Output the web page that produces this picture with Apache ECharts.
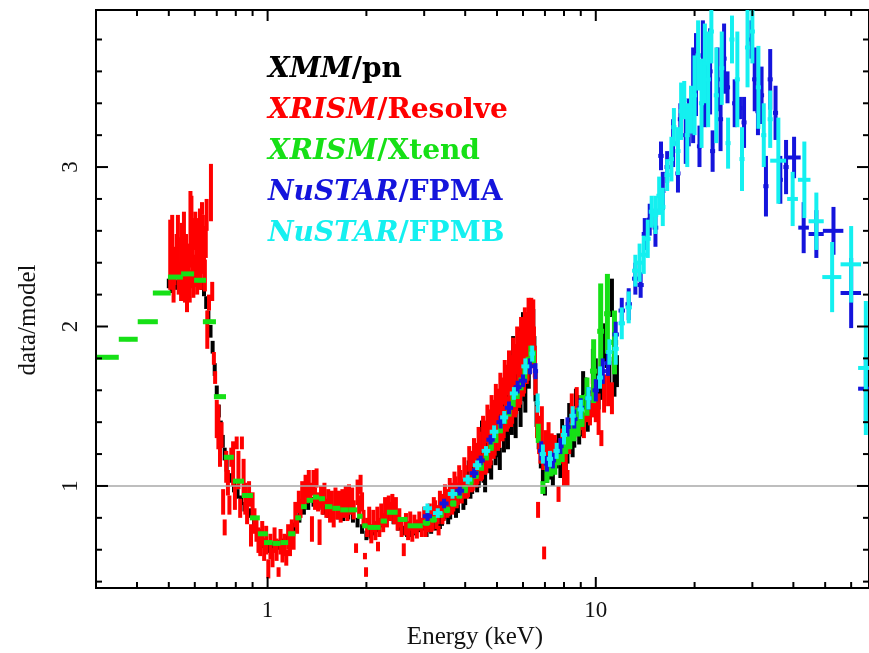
<!DOCTYPE html>
<html>
<head>
<meta charset="utf-8">
<script src="https://cdn.jsdelivr.net/npm/echarts@6/dist/echarts.min.js"></script>
<style>
  html, body { margin: 0; padding: 0; background: #ffffff; }
  #chart { width: 869px; height: 653px; }
</style>
</head>
<body>
<div id="chart"></div>
<script>
// Broadband spectral ratio (data/model) for five instruments.
// Each point: [energy keV, ratio, ratio error]
const pnPoints = [
  [0.50,2.27,0.03],[0.51,2.24,0.03],[0.52,2.29,0.03],[0.53,2.26,0.03],[0.54,2.31,0.03],[0.55,2.28,0.03],
  [0.56,2.30,0.03],[0.57,2.27,0.03],[0.58,2.32,0.03],[0.59,2.29,0.03],[0.60,2.31,0.03],[0.61,2.28,0.03],
  [0.62,2.30,0.03],[0.63,2.26,0.03],[0.64,2.22,0.03],[0.65,2.15,0.04],[0.66,2.06,0.04],[0.67,1.97,0.04],
  [0.68,1.87,0.04],[0.69,1.73,0.04],[0.70,1.59,0.04],[0.71,1.47,0.04],[0.72,1.37,0.04],[0.73,1.28,0.04],
  [0.74,1.20,0.04],[0.75,1.13,0.04],[0.77,1.05,0.03],[0.79,0.99,0.03],[0.81,0.95,0.03],[0.83,0.91,0.03],
  [0.85,0.87,0.03],[0.88,0.83,0.03],[0.91,0.77,0.03],[0.94,0.70,0.03],[0.97,0.64,0.03],[1.00,0.61,0.03],
  [1.03,0.62,0.03],[1.06,0.63,0.03],[1.09,0.63,0.03],[1.12,0.64,0.03],[1.15,0.66,0.03],[1.18,0.70,0.03],
  [1.21,0.74,0.03],[1.25,0.80,0.03],[1.29,0.85,0.03],[1.33,0.88,0.03],[1.38,0.90,0.03],[1.43,0.88,0.03],
  [1.48,0.85,0.03],[1.53,0.83,0.03],[1.58,0.82,0.03],[1.64,0.82,0.03],[1.70,0.81,0.03],[1.76,0.82,0.03],
  [1.82,0.80,0.03],[1.88,0.77,0.03],[1.94,0.73,0.03],[2.00,0.69,0.03],[2.06,0.70,0.03],[2.12,0.72,0.03],
  [2.18,0.74,0.03],[2.24,0.77,0.03],[2.30,0.80,0.03],[2.36,0.82,0.03],[2.42,0.79,0.03],[2.50,0.75,0.03],
  [2.58,0.72,0.03],[2.66,0.71,0.03],[2.74,0.71,0.03],[2.82,0.72,0.03],[2.90,0.74,0.03],[3.00,0.76,0.04],
  [3.05,0.72,0.04],[3.10,0.77,0.04],[3.15,0.74,0.04],[3.20,0.80,0.04],[3.25,0.76,0.04],[3.30,0.81,0.04],
  [3.35,0.77,0.04],[3.40,0.79,0.04],[3.45,0.84,0.05],[3.50,0.87,0.05],[3.55,0.80,0.04],[3.60,0.83,0.04],
  [3.65,0.89,0.05],[3.70,0.92,0.05],[3.75,0.85,0.05],[3.80,0.88,0.05],[3.85,0.95,0.05],[3.90,0.99,0.05],
  [3.95,0.90,0.05],[4.00,0.93,0.05],[4.05,1.04,0.06],[4.10,1.10,0.06],[4.15,0.97,0.05],[4.20,1.00,0.05],
  [4.25,1.12,0.06],[4.30,1.15,0.06],[4.35,1.02,0.06],[4.40,1.05,0.06],[4.45,1.24,0.07],[4.50,1.34,0.07],
  [4.55,1.08,0.06],[4.60,1.02,0.06],[4.65,1.24,0.07],[4.70,1.30,0.07],[4.75,1.14,0.06],[4.80,1.10,0.06],
  [4.85,1.33,0.07],[4.90,1.40,0.07],[4.95,1.20,0.07],[5.00,1.48,0.07],[5.05,1.25,0.07],[5.10,1.17,0.07],
  [5.15,1.44,0.08],[5.20,1.52,0.08],[5.25,1.28,0.07],[5.30,1.50,0.08],[5.35,1.62,0.08],[5.40,1.30,0.07],
  [5.45,1.42,0.08],[5.50,1.70,0.08],[5.55,1.40,0.08],[5.60,1.86,0.08],[5.65,1.50,0.08],[5.70,1.38,0.08],
  [5.75,1.72,0.09],[5.80,1.90,0.09],[5.85,1.55,0.08],[5.90,1.45,0.08],[5.95,1.82,0.09],[6.00,2.00,0.09],
  [6.05,1.62,0.09],[6.10,1.55,0.09],[6.15,1.88,0.09],[6.20,1.97,0.09],[6.25,1.70,0.09],[6.30,2.05,0.09],
  [6.35,1.85,0.09],[6.40,1.95,0.09],[6.45,2.02,0.09],[6.50,1.85,0.09],[6.55,1.62,0.09],[6.60,1.45,0.08],
  [6.70,1.30,0.07],[6.80,1.17,0.06],[6.90,1.08,0.06],[7.00,0.97,0.03],[7.05,1.14,0.06],[7.10,1.08,0.06],
  [7.15,1.20,0.07],[7.20,1.15,0.07],[7.30,1.10,0.06],[7.40,1.05,0.05],[7.50,1.22,0.07],[7.60,1.18,0.07],
  [7.70,1.26,0.07],[7.80,1.12,0.07],[7.90,1.34,0.08],[8.00,1.28,0.08],[8.10,1.18,0.08],[8.20,1.22,0.08],
  [8.30,1.44,0.08],[8.40,1.38,0.08],[8.50,1.26,0.08],[8.60,1.32,0.08],[8.70,1.52,0.09],[8.80,1.48,0.09],
  [8.90,1.35,0.09],[9.00,1.40,0.09],[9.15,1.62,0.10],[9.30,1.58,0.10],[9.45,1.44,0.10],[9.60,1.50,0.10],
  [9.80,1.75,0.11],[10.0,1.70,0.10],[10.2,1.58,0.10],[10.4,1.64,0.10],[10.6,1.90,0.12],[10.8,1.85,0.11],
  [11.0,1.70,0.11],[11.2,2.18,0.12],[11.4,1.66,0.10],[11.6,1.72,0.10]
];

const resolvePoints = [
  [0.505,2.45,0.22],[0.512,2.56,0.14],[0.517,2.30,0.15],[0.520,2.38,0.12],[0.528,2.44,0.14],[0.533,2.52,0.18],
  [0.536,2.30,0.10],[0.545,2.36,0.20],[0.548,2.50,0.15],[0.552,2.45,0.12],[0.556,2.62,0.10],[0.560,2.30,0.15],
  [0.564,2.40,0.18],[0.568,2.29,0.20],[0.575,2.40,0.12],[0.579,2.25,0.10],[0.582,2.61,0.24],[0.586,2.70,0.12],
  [0.590,2.46,0.22],[0.594,2.30,0.12],[0.598,2.35,0.10],[0.602,2.60,0.12],[0.606,2.52,0.15],[0.610,2.30,0.10],
  [0.615,2.40,0.10],[0.618,2.48,0.20],[0.622,2.62,0.12],[0.626,2.35,0.12],[0.631,2.74,0.04],[0.635,2.55,0.15],
  [0.640,2.45,0.12],[0.644,2.32,0.10],[0.648,2.53,0.10],[0.652,2.70,0.10],[0.655,1.98,0.12],[0.663,2.15,0.05],
  [0.672,2.84,0.18],[0.678,2.22,0.06],[0.686,1.80,0.04],[0.692,1.68,0.04],[0.700,1.42,0.12],[0.708,1.37,0.14],
  [0.716,1.22,0.10],[0.724,1.32,0.08],[0.732,0.90,0.08],[0.740,0.74,0.05],[0.748,1.12,0.10],[0.757,1.02,0.08],
  [0.765,0.88,0.06],[0.775,1.18,0.06],[0.785,1.14,0.14],[0.795,0.93,0.08],[0.805,1.27,0.04],[0.815,1.10,0.12],
  [0.825,0.86,0.06],[0.835,1.27,0.04],[0.845,1.05,0.12],[0.855,0.92,0.10],[0.866,0.84,0.08],[0.878,0.95,0.08],
  [0.890,0.69,0.07],[0.900,0.88,0.08],[0.912,0.78,0.08],[0.925,0.72,0.07],[0.938,0.66,0.08],[0.950,0.62,0.06],
  [0.963,0.70,0.08],[0.976,0.60,0.07],[0.990,0.66,0.09],[1.005,0.48,0.06],[1.020,0.62,0.08],[1.035,0.55,0.06],
  [1.050,0.66,0.08],[1.065,0.60,0.07],[1.080,0.46,0.03],[1.095,0.65,0.08],[1.110,0.58,0.06],[1.125,0.63,0.07],
  [1.140,0.55,0.05],[1.155,0.68,0.08],[1.170,0.62,0.06],[1.185,0.72,0.07],[1.200,0.66,0.06],[1.215,0.82,0.08],
  [1.230,0.76,0.06],[1.245,0.90,0.07],[1.260,0.86,0.06],[1.275,0.97,0.06],[1.290,0.92,0.06],[1.305,1.00,0.07],
  [1.320,0.95,0.06],[1.335,1.03,0.07],[1.350,0.96,0.06],[1.365,0.73,0.08],[1.380,1.02,0.08],[1.395,0.92,0.07],
  [1.410,1.05,0.06],[1.425,0.90,0.06],[1.440,0.71,0.08],[1.455,0.93,0.07],[1.470,0.88,0.06],[1.490,0.95,0.07],
  [1.510,0.86,0.06],[1.530,0.91,0.07],[1.550,0.83,0.06],[1.570,0.90,0.07],[1.590,0.80,0.06],[1.610,0.93,0.06],
  [1.630,0.85,0.06],[1.650,0.90,0.07],[1.670,0.82,0.05],[1.690,0.92,0.06],[1.710,0.86,0.06],[1.730,0.93,0.07],
  [1.750,0.84,0.06],[1.770,0.95,0.06],[1.790,0.88,0.06],[1.810,0.92,0.07],[1.830,0.85,0.06],[1.860,0.61,0.03],
  [1.880,0.96,0.08],[1.900,0.88,0.06],[1.920,1.01,0.06],[1.940,0.90,0.06],[1.960,0.80,0.05],[1.980,0.56,0.02],
  [1.995,0.46,0.03],[2.010,0.74,0.06],[2.040,0.80,0.07],[2.070,0.70,0.06],[2.100,0.78,0.07],[2.130,0.72,0.06],
  [2.160,0.80,0.07],[2.170,0.62,0.03],[2.190,0.74,0.06],[2.220,0.82,0.07],[2.250,0.77,0.06],[2.280,0.86,0.07],
  [2.310,0.80,0.06],[2.340,0.88,0.06],[2.370,0.84,0.06],[2.400,0.90,0.05],[2.430,0.82,0.06],[2.460,0.86,0.07],
  [2.490,0.78,0.06],[2.520,0.80,0.06],[2.560,0.74,0.06],[2.600,0.60,0.04],[2.640,0.76,0.07],[2.680,0.72,0.06],
  [2.720,0.78,0.06],[2.760,0.70,0.05],[2.800,0.76,0.06],[2.850,0.73,0.06],[2.900,0.78,0.06],[2.950,0.74,0.06],
  [3.000,0.80,0.07],[3.030,0.74,0.06],[3.060,0.77,0.06],[3.090,0.80,0.07],[3.120,0.83,0.06],[3.150,0.77,0.06],
  [3.180,0.79,0.07],[3.210,0.86,0.07],[3.240,0.85,0.06],[3.270,0.79,0.06],[3.300,0.82,0.06],[3.320,0.72,0.03],
  [3.350,0.90,0.07],[3.380,0.88,0.07],[3.410,0.82,0.06],[3.440,0.84,0.06],[3.470,0.94,0.07],[3.500,0.92,0.06],
  [3.530,0.86,0.06],[3.560,0.88,0.07],[3.590,0.98,0.07],[3.620,0.96,0.06],[3.650,0.89,0.07],[3.680,0.91,0.07],
  [3.710,1.02,0.07],[3.740,1.00,0.06],[3.770,0.93,0.07],[3.800,0.95,0.07],[3.835,1.06,0.07],[3.870,1.03,0.07],
  [3.905,0.96,0.07],[3.940,0.98,0.06],[3.975,1.10,0.08],[4.010,1.06,0.07],[4.045,0.99,0.07],[4.080,1.00,0.07],
  [4.115,1.17,0.08],[4.150,1.14,0.08],[4.185,1.03,0.07],[4.220,1.04,0.07],[4.255,1.21,0.09],[4.290,1.18,0.09],
  [4.325,1.07,0.08],[4.360,1.08,0.07],[4.395,1.27,0.10],[4.430,1.24,0.10],[4.465,1.11,0.08],[4.500,1.12,0.08],
  [4.535,1.33,0.11],[4.570,1.30,0.11],[4.605,1.15,0.08],[4.640,1.16,0.08],[4.675,1.39,0.12],[4.710,1.36,0.12],
  [4.745,1.20,0.09],[4.780,1.22,0.09],[4.815,1.45,0.12],[4.850,1.42,0.12],[4.885,1.26,0.09],[4.920,1.28,0.09],
  [4.960,1.51,0.13],[5.000,1.48,0.13],[5.040,1.32,0.10],[5.080,1.34,0.10],[5.120,1.58,0.13],[5.160,1.55,0.13],
  [5.200,1.38,0.10],[5.240,1.40,0.10],[5.280,1.65,0.14],[5.320,1.62,0.14],[5.360,1.44,0.10],[5.400,1.46,0.10],
  [5.440,1.71,0.14],[5.480,1.68,0.14],[5.520,1.48,0.11],[5.560,1.50,0.11],[5.600,1.78,0.15],[5.640,1.74,0.15],
  [5.680,1.54,0.11],[5.720,1.56,0.11],[5.760,1.85,0.15],[5.800,1.82,0.15],[5.840,1.60,0.11],[5.880,1.62,0.11],
  [5.920,1.91,0.15],[5.960,1.88,0.15],[6.000,1.68,0.12],[6.040,1.70,0.12],[6.080,1.97,0.15],[6.120,1.94,0.15],
  [6.160,1.76,0.12],[6.200,1.78,0.12],[6.240,2.03,0.15],[6.280,2.00,0.16],[6.320,1.88,0.12],[6.360,2.08,0.10],
  [6.390,2.02,0.14],[6.420,1.95,0.14],[6.450,2.05,0.12],[6.480,1.88,0.12],[6.520,1.78,0.10],
  [6.550,1.65,0.08],[6.620,1.40,0.10],[6.670,0.85,0.05],[6.720,1.32,0.12],[6.780,1.24,0.10],[6.850,1.38,0.12],
  [6.920,1.18,0.08],[6.960,0.58,0.04],[7.020,1.25,0.10],[7.100,1.20,0.08],[7.180,1.30,0.10],[7.260,1.16,0.08],
  [7.340,1.25,0.08],[7.420,1.18,0.07],[7.500,1.24,0.08],[7.600,1.20,0.07],[7.700,0.95,0.05],[7.800,1.22,0.08],
  [7.900,1.28,0.08],[8.000,1.12,0.12],[8.100,1.20,0.10],[8.200,1.05,0.05],[8.300,1.30,0.10],[8.450,1.45,0.13],
  [8.600,1.40,0.10],[8.750,1.50,0.12],[8.900,1.42,0.10],[9.050,1.45,0.10],[9.200,1.38,0.08],[9.400,1.52,0.12],
  [9.600,1.48,0.10],[9.800,1.55,0.12],[10.00,1.50,0.10],[10.20,1.45,0.13],[10.40,1.30,0.05],[10.60,1.58,0.12],
  [10.90,1.62,0.12],[11.20,1.55,0.10]
];

// Xtend bins: [energy, bin low, bin high, ratio, ratio error]
const xtendBins = [
  [0.326,0.302,0.352,1.807,0.012],[0.376,0.352,0.402,1.92,0.012],[0.430,0.402,0.463,2.03,0.012],
  [0.476,0.447,0.507,2.21,0.012],[0.523,0.497,0.552,2.31,0.012],[0.570,0.545,0.597,2.33,0.012],
  [0.622,0.597,0.649,2.29,0.012],[0.665,0.635,0.696,2.03,0.012],[0.716,0.686,0.747,1.56,0.012],
  [0.762,0.736,0.789,1.18,0.012],[0.815,0.784,0.847,1.03,0.012],[0.868,0.835,0.902,0.94,0.012],
  [0.915,0.883,0.947,0.80,0.012],[0.967,0.934,1.002,0.70,0.012],[1.005,0.975,1.035,0.645,0.012],
  [1.065,1.035,1.095,0.64,0.012],[1.125,1.095,1.155,0.645,0.012],[1.185,1.155,1.215,0.70,0.012],
  [1.240,1.215,1.265,0.80,0.012],[1.290,1.265,1.315,0.87,0.012],[1.345,1.315,1.375,0.91,0.012],
  [1.405,1.375,1.435,0.93,0.012],[1.465,1.435,1.495,0.92,0.012],[1.535,1.495,1.575,0.87,0.012],
  [1.620,1.575,1.665,0.86,0.012],[1.715,1.665,1.765,0.85,0.012],[1.820,1.765,1.875,0.85,0.012],
  [1.910,1.875,1.945,0.81,0.012],[1.980,1.945,2.015,0.75,0.012],[2.110,2.015,2.210,0.74,0.012],
  [2.260,2.210,2.310,0.78,0.012],[2.400,2.310,2.490,0.835,0.012],[2.580,2.490,2.670,0.79,0.012],
  [2.830,2.670,2.970,0.75,0.012],[3.050,2.970,3.130,0.77,0.02],[3.200,3.130,3.280,0.79,0.02],
  [3.360,3.280,3.440,0.82,0.02],[3.520,3.440,3.600,0.85,0.02],[3.680,3.600,3.760,0.89,0.02],
  [3.840,3.760,3.920,0.94,0.02],[4.000,3.920,4.080,0.98,0.025],[4.160,4.080,4.240,1.03,0.025],
  [4.320,4.240,4.400,1.07,0.025],[4.480,4.400,4.560,1.12,0.025],[4.640,4.560,4.720,1.19,0.03],
  [4.800,4.720,4.880,1.25,0.03],[4.960,4.880,5.040,1.30,0.03],[5.120,5.040,5.200,1.36,0.03],
  [5.280,5.200,5.360,1.42,0.03],[5.440,5.360,5.520,1.47,0.035],[5.600,5.520,5.680,1.53,0.035],
  [5.760,5.680,5.840,1.58,0.035],[5.920,5.840,6.000,1.64,0.04],[6.080,6.000,6.160,1.70,0.04],
  [6.220,6.160,6.280,1.77,0.04],[6.340,6.280,6.400,1.84,0.04],[6.460,6.400,6.520,1.81,0.04],
  [6.680,6.600,6.760,1.33,0.06],[6.900,6.800,7.000,0.99,0.04],[7.100,7.000,7.200,1.08,0.06],
  [7.300,7.200,7.400,1.13,0.07],[7.500,7.400,7.600,1.14,0.07],[7.700,7.600,7.800,1.20,0.07],
  [7.900,7.800,8.000,1.22,0.07],[8.100,8.000,8.200,1.28,0.08],[8.330,8.200,8.450,1.31,0.08],
  [8.580,8.450,8.700,1.37,0.09],[8.830,8.700,8.950,1.40,0.09],[9.080,8.950,9.200,1.47,0.10],
  [9.400,9.200,9.600,1.56,0.12],[9.850,9.600,10.10,1.72,0.20],
  [10.35,10.10,10.60,1.97,0.30],[10.85,10.60,11.10,2.08,0.25],[11.40,11.10,11.70,1.90,0.20]
];

// NuSTAR points: [energy, energy half-width, ratio, ratio error]
const fpmaPoints = [
  [3.07,0.10,0.81,0.03],[3.45,0.11,0.89,0.03],[3.85,0.12,0.97,0.03],[4.26,0.13,1.08,0.03],[4.46,0.13,1.16,0.03],
  [4.78,0.14,1.29,0.03],[5.13,0.15,1.40,0.04],[5.44,0.16,1.49,0.04],[5.78,0.16,1.62,0.04],[6.00,0.17,1.66,0.04],
  [6.30,0.18,1.75,0.05],[6.55,0.12,1.72,0.05],[6.82,0.15,1.22,0.06],[7.10,0.16,1.14,0.05],[7.40,0.17,1.16,0.05],
  [7.80,0.18,1.25,0.05],[8.20,0.19,1.37,0.06],[8.60,0.20,1.42,0.06],[9.00,0.21,1.49,0.06],[9.50,0.22,1.55,0.07],
  [10.0,0.23,1.60,0.07],[10.5,0.24,1.72,0.08],[10.9,0.25,1.77,0.08],[11.5,0.26,1.95,0.08],[12.0,0.27,2.10,0.08],
  [12.6,0.28,2.14,0.10],[13.2,0.30,2.30,0.10],[13.7,0.30,2.26,0.08],[14.1,0.30,2.58,0.10],[14.6,0.30,2.67,0.10],
  [15.2,0.30,2.62,0.12],[15.8,0.30,3.07,0.09],[16.0,0.30,2.85,0.12],[16.5,0.30,3.00,0.10],[17.2,0.32,3.15,0.15],
  [17.8,0.32,2.96,0.12],[18.1,0.32,3.30,0.10],[18.8,0.34,3.20,0.18],[19.2,0.34,3.28,0.15],[19.8,0.35,3.45,0.30],
  [20.2,0.36,3.58,0.26],[20.7,0.37,3.13,0.13],[21.2,0.38,3.70,0.22],[21.5,0.38,3.45,0.20],[22.3,0.40,3.60,0.27],
  [22.7,0.40,3.10,0.13],[23.5,0.42,3.55,0.20],[24.0,0.43,3.30,0.20],[24.6,0.44,3.68,0.22],[25.2,0.45,3.50,0.10],
  [26.5,0.47,3.40,0.15],[27.5,0.50,3.37,0.07],[28.3,0.50,3.28,0.16],[29.8,0.53,3.80,0.12],[30.5,0.55,3.55,0.20],
  [31.2,0.56,3.35,0.15],[32.0,0.57,3.45,0.18],[33.0,0.60,2.88,0.19],[34.0,0.60,3.55,0.19],[35.3,0.63,3.34,0.17],
  [36.5,0.65,2.92,0.15],[38.0,0.70,3.00,0.17],[40.2,1.90,3.06,0.13],[43.0,1.60,2.62,0.16],[47.0,2.50,2.58,0.15],
  [53.0,3.80,2.60,0.15],[60.0,4.30,2.21,0.22],[66.5,3.50,1.61,0.20]
];

const fpmbPoints = [
  [3.07,0.10,0.86,0.03],[3.30,0.11,0.83,0.03],[3.66,0.12,0.95,0.03],[4.07,0.13,1.04,0.03],[4.35,0.13,1.13,0.03],
  [4.63,0.14,1.22,0.03],[4.90,0.15,1.34,0.04],[5.26,0.15,1.43,0.04],[5.63,0.16,1.58,0.04],[6.10,0.17,1.75,0.05],
  [6.40,0.12,1.83,0.05],[6.65,0.10,1.52,0.06],[6.90,0.15,1.20,0.06],[7.25,0.16,1.17,0.05],[7.60,0.17,1.22,0.05],
  [8.00,0.18,1.32,0.06],[8.50,0.19,1.44,0.06],[9.00,0.20,1.48,0.06],[9.50,0.21,1.55,0.07],[10.3,0.23,1.68,0.07],
  [11.0,0.24,1.84,0.08],[11.5,0.25,1.86,0.10],[12.0,0.27,2.02,0.10],[12.6,0.28,2.12,0.10],[13.2,0.30,2.35,0.10],
  [13.6,0.30,2.40,0.12],[14.0,0.30,2.45,0.12],[14.4,0.30,2.55,0.12],[14.8,0.30,2.72,0.10],[15.2,0.30,2.70,0.12],
  [15.6,0.30,2.82,0.12],[16.0,0.30,2.75,0.12],[16.5,0.30,2.95,0.10],[17.0,0.31,3.05,0.14],[17.3,0.31,3.25,0.12],
  [17.8,0.32,3.10,0.15],[18.2,0.33,3.35,0.18],[18.6,0.33,3.42,0.12],[19.0,0.34,3.20,0.20],[19.5,0.35,3.36,0.15],
  [20.0,0.36,3.45,0.25],[20.5,0.37,3.70,0.22],[21.0,0.38,3.40,0.28],[21.5,0.38,3.65,0.25],[22.0,0.40,3.55,0.30],
  [22.5,0.40,3.85,0.20],[23.3,0.42,3.45,0.30],[24.2,0.43,3.62,0.23],[25.3,0.45,3.15,0.16],[26.0,0.46,3.80,0.15],
  [27.0,0.48,3.55,0.30],[27.9,0.50,3.05,0.20],[29.0,0.52,3.75,0.25],[30.0,0.54,3.85,0.20],[31.3,0.56,3.50,0.26],
  [32.5,0.58,3.20,0.20],[34.0,0.60,3.30,0.18],[36.0,2.00,3.04,0.27],[39.8,1.50,2.80,0.17],[43.2,1.90,2.92,0.24],
  [47.0,2.50,2.66,0.18],[52.5,3.50,2.31,0.22],[60.0,4.30,2.39,0.24],[66.5,3.50,1.74,0.42]
];

// Axis ticks and labels
const energyMajorTicks = [1, 10];
const energyMinorTicks = [0.4, 0.5, 0.6, 0.7, 0.8, 0.9, 2, 3, 4, 5, 6, 7, 8, 9, 20, 30, 40, 50, 60];
const ratioMajorTicks = [1, 2, 3];
const ratioMinorTicks = [0.4, 0.6, 0.8, 1.2, 1.4, 1.6, 1.8, 2.2, 2.4, 2.6, 2.8, 3.2, 3.4, 3.6, 3.8];

const instruments = [
  { mission: 'XMM', detector: '/pn', color: '#000000' },
  { mission: 'XRISM', detector: '/Resolve', color: '#ff0000' },
  { mission: 'XRISM', detector: '/Xtend', color: '#16e016' },
  { mission: 'NuSTAR', detector: '/FPMA', color: '#1414dc' },
  { mission: 'NuSTAR', detector: '/FPMB', color: '#14f0f0' }
];

// Data item layout for the error-bar renderer: [E, ratio, ratioErr, Elow, Ehigh]
const pnData = pnPoints.map(p => [p[0], p[1], p[2], p[0], p[0]]);
const resolveData = resolvePoints.map(p => [p[0], p[1], p[2], p[0], p[0]]);
const xtendData = xtendBins.map(p => [p[0], p[3], p[4], p[1], p[2]]);
const fpmaData = fpmaPoints.map(p => [p[0], p[2], p[3], p[0] - p[1], p[0] + p[1]]);
const fpmbData = fpmbPoints.map(p => [p[0], p[2], p[3], p[0] - p[1], p[0] + p[1]]);

function errorBarRenderer(color, width) {
  return function (params, api) {
    const e = api.value(0), r = api.value(1), dr = api.value(2);
    const lo = api.value(3), hi = api.value(4);
    const top = api.coord([e, r + dr]);
    const bottom = api.coord([e, r - dr]);
    const style = { stroke: color, lineWidth: width };
    const children = [{
      type: 'line',
      shape: { x1: top[0], y1: top[1], x2: bottom[0], y2: bottom[1] },
      style: style
    }];
    if (hi > lo) {
      const left = api.coord([lo, r]);
      const right = api.coord([hi, r]);
      children.push({
        type: 'line',
        shape: { x1: left[0], y1: left[1], x2: right[0], y2: right[1] },
        style: style
      });
    }
    return { type: 'group', children: children };
  };
}

function errorSeries(name, data, color, width) {
  return {
    name: name,
    type: 'custom',
    data: data,
    clip: true,
    encode: { x: 0, y: 1 },
    renderItem: errorBarRenderer(color, width),
    silent: true
  };
}

// Inward ticks on all four frame sides
const xTickData = energyMajorTicks.map(v => [v, 1]).concat(energyMinorTicks.map(v => [v, 0]));
const yTickData = ratioMajorTicks.map(v => [v, 1]).concat(ratioMinorTicks.map(v => [v, 0]));

function xTickRenderer(params, api) {
  const cs = params.coordSys;
  const len = api.value(1) === 1 ? 11 : 6;
  const x = api.coord([api.value(0), 1])[0];
  const style = { stroke: '#000', lineWidth: 2 };
  return { type: 'group', children: [
    { type: 'line', shape: { x1: x, y1: cs.y + cs.height, x2: x, y2: cs.y + cs.height - len }, style: style },
    { type: 'line', shape: { x1: x, y1: cs.y, x2: x, y2: cs.y + len }, style: style }
  ]};
}

function yTickRenderer(params, api) {
  const cs = params.coordSys;
  const len = api.value(1) === 1 ? 12 : 6;
  const y = api.coord([1, api.value(0)])[1];
  const style = { stroke: '#000', lineWidth: 2 };
  return { type: 'group', children: [
    { type: 'line', shape: { x1: cs.x, y1: y, x2: cs.x + len, y2: y }, style: style },
    { type: 'line', shape: { x1: cs.x + cs.width, y1: y, x2: cs.x + cs.width - len, y2: y }, style: style }
  ]};
}

const legendItems = instruments.map((ins, i) => ({
  type: 'text',
  x: 268,
  y: 70 + i * 41,
  style: {
    text: '{m|' + ins.mission + '}{d|' + ins.detector + '}',
    verticalAlign: 'middle',
    rich: {
      m: { fontFamily: 'DejaVu Serif', fontSize: 28, fontWeight: 'bold', fontStyle: 'italic', fill: ins.color },
      d: { fontFamily: 'DejaVu Serif', fontSize: 28, fontWeight: 'bold', fill: ins.color }
    }
  }
}));

const chart = echarts.init(document.getElementById('chart'), null, { renderer: 'canvas' });

chart.setOption({
  animation: false,
  backgroundColor: '#ffffff',
  grid: {
    left: 96, right: 0, top: 10, bottom: 65,
    show: true, borderColor: '#000', borderWidth: 2, backgroundColor: 'transparent'
  },
  xAxis: {
    type: 'log',
    logBase: 10,
    min: 0.3,
    max: 68,
    axisLine: { show: false },
    axisTick: { show: false },
    splitLine: { show: false },
    axisLabel: {
      showMinLabel: false,
      showMaxLabel: false,
      fontFamily: 'Liberation Serif',
      fontSize: 23,
      color: '#111',
      margin: 11
    }
  },
  yAxis: {
    type: 'value',
    min: 0.36,
    max: 3.985,
    axisLine: { show: false },
    axisTick: { show: false },
    splitLine: { show: false },
    axisLabel: {
      customValues: ratioMajorTicks,
      rotate: 90,
      fontFamily: 'Liberation Serif',
      fontSize: 23,
      color: '#111',
      margin: 14
    }
  },
  graphic: [
    {
      type: 'text',
      x: 28, y: 320,
      rotation: Math.PI / 2,
      style: { text: 'data/model', fontFamily: 'Liberation Serif', fontSize: 25, fill: '#111',
               align: 'center', verticalAlign: 'middle' }
    },
    {
      type: 'text',
      x: 475, y: 637,
      style: { text: 'Energy (keV)', fontFamily: 'Liberation Serif', fontSize: 25, fill: '#111',
               align: 'center', verticalAlign: 'middle' }
    }
  ].concat(legendItems),
  series: [
    Object.assign(errorSeries('XMM/pn', pnData, instruments[0].color, 4), {
      markLine: {
        silent: true,
        symbol: 'none',
        label: { show: false },
        lineStyle: { color: '#a8a8a8', width: 1.5, type: 'solid' },
        data: [{ yAxis: 1 }]
      }
    }),
    errorSeries('XRISM/Resolve', resolveData, instruments[1].color, 4),
    errorSeries('XRISM/Xtend', xtendData, instruments[2].color, 5),
    errorSeries('NuSTAR/FPMA', fpmaData, instruments[3].color, 4),
    errorSeries('NuSTAR/FPMB', fpmbData, instruments[4].color, 4),
    { type: 'custom', data: xTickData, encode: { x: 0 }, renderItem: xTickRenderer, silent: true, z: 5 },
    { type: 'custom', data: yTickData, encode: { y: 0 }, renderItem: yTickRenderer, silent: true, z: 5 }
  ]
});
</script>
</body>
</html>
